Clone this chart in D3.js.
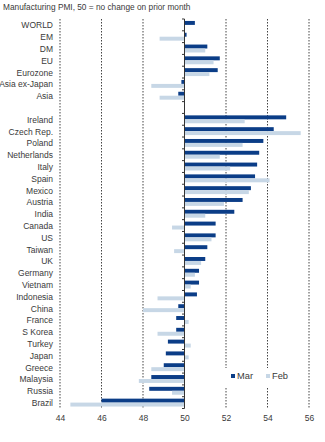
<!DOCTYPE html>
<html>
<head>
<meta charset="utf-8">
<script src="https://cdn.jsdelivr.net/npm/d3@7"></script>
<style>
  body { margin: 0; background: #fff; }
  svg { display: block; font-family: 'Liberation Sans', Arial, sans-serif; }
</style>
</head>
<body>
<div id="chart"></div>
<script>
// regional aggregates first, then the individual countries
const aggregates = ['WORLD', 'EM', 'DM', 'EU', 'Eurozone', 'Asia ex-Japan', 'Asia'];
const aggMar = [50.5, 50.1, 51.1, 51.7, 51.6, 49.85, 49.7];
const aggFeb = [50.0, 48.8, 51.0, 51.4, 51.2, 48.4, 48.8];

const countries = ['Ireland', 'Czech Rep.', 'Poland', 'Netherlands', 'Italy', 'Spain', 'Mexico',
  'Austria', 'India', 'Canada', 'US', 'Taiwan', 'UK', 'Germany', 'Vietnam', 'Indonesia', 'China',
  'France', 'S Korea', 'Turkey', 'Japan', 'Greece', 'Malaysia', 'Russia', 'Brazil'];
const countryMar = [54.9, 54.3, 53.8, 53.6, 53.5, 53.4, 53.2, 52.8, 52.4, 51.5, 51.5, 51.1, 51.0,
  50.7, 50.7, 50.6, 49.7, 49.6, 49.6, 49.2, 49.1, 49.0, 48.4, 48.3, 46.0];
const countryFeb = [52.9, 55.6, 52.8, 51.7, 52.2, 54.1, 53.1, 51.9, 51.0, 49.4, 51.3, 49.5, 50.8,
  50.5, 50.3, 48.7, 48.0, 50.2, 48.7, 50.3, 50.2, 48.4, 47.8, 49.4, 44.5];

const xTicks = [44, 46, 48, 50, 52, 54, 56];
const seriesNames = ['Mar', 'Feb'];
const colors = { Mar: '#0b3d87', Feb: '#c7d7e6' };
const baseline = 50;

const w = 325, h = 442;
const plotTop = 19, plotBottom = 408.5;
const fontSize = '8.5px';
const textColor = '#3a3a3a';

const rows = aggregates.map((name, i) => ({ name, Mar: aggMar[i], Feb: aggFeb[i] }))
  .concat([{ name: '__gap', Mar: null, Feb: null }])
  .concat(countries.map((name, i) => ({ name, Mar: countryMar[i], Feb: countryFeb[i] })));

const svg = d3.select('#chart').append('svg')
  .attr('width', w)
  .attr('height', h);

const x = d3.scaleLinear().domain([44, 56]).range([60, 309]);

const y = d3.scaleBand()
  .domain(rows.map(d => d.name))
  .range([plotTop, plotBottom])
  .paddingInner(0.33)
  .paddingOuter(0.165);

const ySub = d3.scaleBand().domain(seriesNames).range([0, y.bandwidth()]);

// title
svg.append('text')
  .attr('x', 3)
  .attr('y', 10)
  .style('font-size', '8.3px')
  .style('fill', textColor)
  .text('Manufacturing PMI, 50 = no change on prior month');

// dotted gridlines
svg.append('g')
  .selectAll('line')
  .data(xTicks.filter(t => t !== baseline))
  .enter()
  .append('line')
  .attr('x1', d => x(d))
  .attr('x2', d => x(d))
  .attr('y1', plotTop)
  .attr('y2', plotBottom)
  .attr('stroke', '#444')
  .attr('stroke-width', 1)
  .attr('stroke-dasharray', '1.5,1.5');

// bars
const groups = svg.append('g')
  .selectAll('g')
  .data(rows.filter(d => d.Mar !== null))
  .enter()
  .append('g')
  .attr('transform', d => `translate(0, ${y(d.name)})`);

groups.selectAll('rect')
  .data(d => seriesNames.map(s => ({ s, v: d[s] })))
  .enter()
  .append('rect')
  .attr('x', d => x(Math.min(d.v, baseline)))
  .attr('width', d => Math.abs(x(d.v) - x(baseline)))
  .attr('y', d => ySub(d.s))
  .attr('height', ySub.bandwidth())
  .attr('fill', d => colors[d.s]);

// category labels
svg.append('g')
  .selectAll('text')
  .data(rows.filter(d => d.Mar !== null))
  .enter()
  .append('text')
  .attr('x', 53)
  .attr('y', d => y(d.name) + y.bandwidth() / 2 + 0.5)
  .attr('dy', '0.35em')
  .attr('text-anchor', 'end')
  .style('font-size', fontSize)
  .style('fill', textColor)
  .text(d => d.name);

// vertical axis at 50 with ticks between categories
const bounds = rows.map(d => y(d.name) - y.step() * y.paddingInner() / 2);
bounds.push(plotBottom);
const axis = svg.append('g');
axis.append('line')
  .attr('x1', x(baseline)).attr('x2', x(baseline))
  .attr('y1', plotTop).attr('y2', plotBottom)
  .attr('stroke', '#333');
axis.selectAll('.tick')
  .data(bounds)
  .enter()
  .append('line')
  .attr('class', 'tick')
  .attr('x1', x(baseline) - 2.5).attr('x2', x(baseline))
  .attr('y1', d => d).attr('y2', d => d)
  .attr('stroke', '#333');

// x tick labels
const xAxis = d3.axisBottom(x).tickValues(xTicks).tickSize(0).tickPadding(0);
const xg = svg.append('g')
  .attr('transform', `translate(0, ${plotBottom + 6.5})`)
  .call(xAxis);
xg.select('.domain').remove();
xg.selectAll('text')
  .style('font-size', fontSize)
  .style('font-family', "'Liberation Sans', Arial, sans-serif")
  .style('fill', textColor);

// legend on a white box over the gridlines
const legend = svg.append('g');
legend.append('rect')
  .attr('x', 222).attr('y', 368)
  .attr('width', 80).attr('height', 19)
  .attr('fill', '#fff');
const items = legend.selectAll('.item')
  .data(seriesNames)
  .enter()
  .append('g')
  .attr('class', 'item')
  .attr('transform', (d, i) => `translate(${231 + i * 35}, 376)`);
items.append('rect')
  .attr('x', 0).attr('y', -2)
  .attr('width', 4).attr('height', 4)
  .attr('fill', d => colors[d]);
items.append('text')
  .attr('x', 6)
  .attr('dy', '0.35em')
  .style('font-size', '9.3px')
  .style('fill', textColor)
  .text(d => d);
</script>
</body>
</html>
